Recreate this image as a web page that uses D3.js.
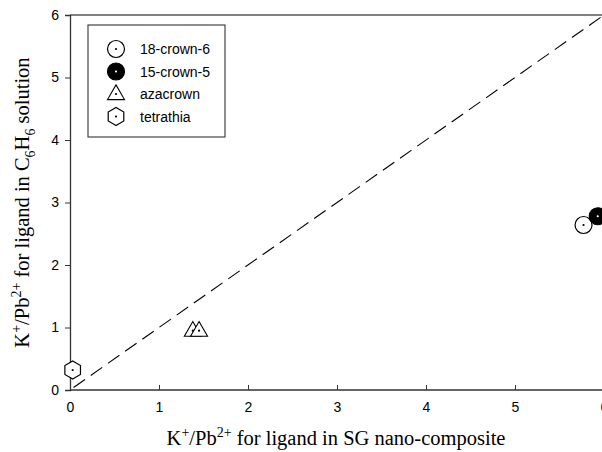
<!DOCTYPE html>
<html>
<head>
<meta charset="utf-8">
<script src="https://cdn.jsdelivr.net/npm/d3@7"></script>
<style>
  body { margin: 0; background: #fff; }
  svg { display: block; }
</style>
</head>
<body>
<div id="chart"></div>
<script>
// données
const ligands = ["18-crown-6", "15-crown-5", "azacrown", "tetrathia"];
const sgValues = [[5.77], [5.93], [1.38, 1.45], [0.03]];
const benzeneValues = [[2.64], [2.78], [0.95, 0.95], [0.32]];
const xTicks = [0, 1, 2, 3, 4, 5, 6];
const yTicks = [0, 1, 2, 3, 4, 5, 6];
const diagonal = [[0.04, 0.04], [6, 6]];

const width = 602, height = 452;
const margin = { top: 15, left: 70, bottom: 62 };

const svg = d3.select("#chart").append("svg")
    .attr("width", width).attr("height", height);

const x = d3.scaleLinear().domain([0, 6]).range([margin.left, 604]);
const y = d3.scaleLinear().domain([0, 6]).range([height - margin.bottom, margin.top]);

// cadre du haut
svg.append("line")
    .attr("x1", x(0)).attr("x2", width)
    .attr("y1", y(6)).attr("y2", y(6))
    .attr("stroke", "#000").attr("stroke-width", 1.2);

// axes
const xAxis = svg.append("g")
    .attr("transform", `translate(0,${y(0)})`)
    .call(d3.axisBottom(x).tickValues(xTicks).tickSize(-5).tickPadding(12).tickFormat(d3.format("d")));
const yAxis = svg.append("g")
    .attr("transform", `translate(${x(0)},0)`)
    .call(d3.axisLeft(y).tickValues(yTicks).tickSize(5).tickPadding(6).tickFormat(d3.format("d")));

[xAxis, yAxis].forEach(g => {
    g.select(".domain").attr("stroke", "#333").attr("stroke-width", 1.3);
    g.selectAll(".tick line").attr("stroke", "#333");
    g.selectAll(".tick text")
        .attr("fill", "#000")
        .style("font-family", "Liberation Sans, Arial, sans-serif")
        .style("font-size", "14px");
});
xAxis.select(".domain").attr("d", `M${x(0)},0H${width}`);

// ligne diagonale en tirets
svg.append("path")
    .attr("d", d3.line().x(d => x(d[0])).y(d => y(d[1]))(diagonal))
    .attr("fill", "none")
    .attr("stroke", "#000")
    .attr("stroke-width", 1.1)
    .attr("stroke-dasharray", "14,7");

// symboles
function drawMarker(g, kind, cx, cy) {
    if (kind === 0 || kind === 1) {
        g.append("circle").attr("cx", cx).attr("cy", cy).attr("r", 8.5)
            .attr("fill", kind === 1 ? "#000" : "#fff")
            .attr("stroke", "#000").attr("stroke-width", 1.2);
    } else if (kind === 2) {
        const s = 17, h = s * Math.sqrt(3) / 2;
        g.append("path")
            .attr("d", `M${cx},${cy - h * 0.62}L${cx + s / 2},${cy + h * 0.38}L${cx - s / 2},${cy + h * 0.38}Z`)
            .attr("fill", "#fff").attr("stroke", "#000").attr("stroke-width", 1.1);
    } else {
        const r = 9;
        const pts = d3.range(6).map(i => {
            const a = Math.PI / 2 + i * Math.PI / 3;
            return [cx + r * Math.cos(a), cy + r * Math.sin(a)];
        });
        g.append("path").attr("d", "M" + pts.join("L") + "Z")
            .attr("fill", "#fff").attr("stroke", "#000").attr("stroke-width", 1.2);
    }
    g.append("circle").attr("cx", cx).attr("cy", cy).attr("r", 1.1)
        .attr("fill", kind === 1 ? "#fff" : "#000");
}

const pts = svg.append("g");
ligands.forEach((name, i) => {
    sgValues[i].forEach((v, j) => drawMarker(pts, i, x(v), y(benzeneValues[i][j])));
});

// légende
const legend = svg.append("g");
legend.append("rect")
    .attr("x", 88).attr("y", 25).attr("width", 137).attr("height", 112)
    .attr("fill", "#fff").attr("stroke", "#333").attr("stroke-width", 1.1);
ligands.forEach((name, i) => {
    const ly = 49 + i * 22.5;
    drawMarker(legend, i, 116, ly);
    legend.append("text")
        .attr("x", 140).attr("y", ly + 5)
        .style("font-family", "Liberation Sans, Arial, sans-serif")
        .style("font-size", "14px")
        .text(name);
});

// titres des axes
const serif = "Liberation Serif, Times New Roman, serif";
function addTitle(t, parts) {
    parts.forEach(p => {
        const ts = t.append("tspan").text(p[0]);
        if (p[1] === "sup") ts.attr("dy", -8).style("font-size", "14px");
        else if (p[1] === "sub") ts.attr("dy", 6).style("font-size", "14px");
        if (p[2]) ts.attr("dy", p[2]);
    });
}

const xTitle = svg.append("text")
    .attr("x", 336).attr("y", 445)
    .attr("text-anchor", "middle")
    .style("font-family", serif).style("font-size", "20.5px");
addTitle(xTitle, [["K"], ["+", "sup"], ["/Pb", null, 8], ["2+", "sup"], [" for ligand in SG nano-composite", null, 8]]);

const yTitle = svg.append("text")
    .attr("transform", `translate(29,${(y(0) + y(6)) / 2}) rotate(-90)`)
    .attr("text-anchor", "middle")
    .style("font-family", serif).style("font-size", "20.5px");
addTitle(yTitle, [["K"], ["+", "sup"], ["/Pb", null, 8], ["2+", "sup"], [" for ligand in C", null, 8],
    ["6", "sub"], ["H", null, -6], ["6", "sub"], [" solution", null, -6]]);
</script>
</body>
</html>
